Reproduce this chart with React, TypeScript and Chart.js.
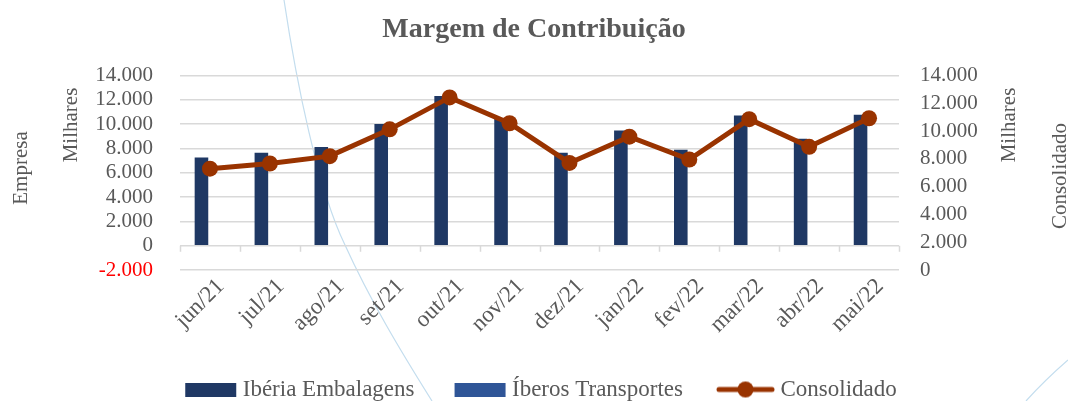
import React, { useEffect, useRef } from 'react';
import { Chart, registerables } from 'chart.js';

Chart.register(...registerables);

const months = ['jun/21', 'jul/21', 'ago/21', 'set/21', 'out/21', 'nov/21', 'dez/21', 'jan/22', 'fev/22', 'mar/22', 'abr/22', 'mai/22'];
const iberiaEmbalagens = [7250, 7650, 8120, 10020, 12320, 10450, 7650, 9490, 7900, 10720, 8800, 10780];
const iberosTransportes = [0, 0, 0, 0, 0, 0, 0, 0, 0, 0, 0, 0];
const consolidado = [7300, 7670, 8200, 10130, 12430, 10570, 7710, 9600, 7960, 10860, 8870, 10930];

const leftMin = -2000;
const leftMax = 14000;
const rightMin = 0;
const rightMax = 14000;
const tickStep = 2000;

const seriesNames = ['Ibéria Embalagens', 'Íberos Transportes', 'Consolidado'];
const chartTitle = 'Margem de Contribuição';
const leftAxisTitle = 'Empresa';
const rightAxisTitle = 'Consolidado';
const unitLabel = 'Milhares';

const FONT = "'Liberation Serif', 'Times New Roman', serif";
const GREY = '#595959';
const NAVY = '#1F3864';
const BLUE = '#2F5597';
const RUST = '#993300';
const GRID = '#D9D9D9';
const DECOR = '#C3DDEE';

function fmt(v: number): string {
  const s = Math.abs(Math.round(v)).toString().replace(/\B(?=(\d{3})+(?!\d))/g, '.');
  return (v < 0 ? '-' : '') + s;
}

function barSwatch(color: string): HTMLCanvasElement {
  const c = document.createElement('canvas');
  c.width = 72;
  c.height = 14;
  const g = c.getContext('2d')!;
  g.fillStyle = color;
  g.fillRect(20, 0, 51, 14);
  return c;
}

function lineSwatch(color: string): HTMLCanvasElement {
  const c = document.createElement('canvas');
  c.width = 72;
  c.height = 18;
  const g = c.getContext('2d')!;
  g.strokeStyle = color;
  g.lineWidth = 5;
  g.lineCap = 'round';
  g.beginPath();
  g.moveTo(16, 9);
  g.lineTo(69, 9);
  g.stroke();
  g.fillStyle = color;
  g.beginPath();
  g.arc(42.5, 9, 8, 0, Math.PI * 2);
  g.fill();
  return c;
}

const decorPlugin = {
  id: 'decor',
  beforeDraw(chart: any) {
    const ctx = chart.ctx;
    ctx.save();
    ctx.strokeStyle = DECOR;
    ctx.lineWidth = 1.2;
    ctx.beginPath();
    ctx.moveTo(284, 0);
    ctx.bezierCurveTo(296, 80, 318, 190, 345, 245);
    ctx.bezierCurveTo(370, 300, 400, 350, 432, 401);
    ctx.stroke();
    ctx.beginPath();
    ctx.moveTo(1026, 401);
    ctx.quadraticCurveTo(1045, 380, 1068, 360);
    ctx.stroke();
    ctx.restore();
  },
};

const axisExtrasPlugin = {
  id: 'axisExtras',
  beforeDatasetsDraw(chart: any) {
    const ctx = chart.ctx;
    const xs = chart.scales.x;
    const ys = chart.scales.y;
    const y0 = ys.getPixelForValue(0);
    const n = chart.data.labels.length;
    const w = (xs.right - xs.left) / n;
    ctx.save();
    ctx.strokeStyle = GRID;
    ctx.lineWidth = 1.5;
    ctx.beginPath();
    for (let i = 0; i <= n; i++) {
      const x = Math.round(xs.left + i * w) + 0.5;
      ctx.moveTo(x, y0);
      ctx.lineTo(x, y0 + 6);
    }
    ctx.stroke();
    ctx.restore();
  },
  afterDraw(chart: any) {
    const ctx = chart.ctx;
    ctx.save();
    ctx.fillStyle = GREY;
    ctx.font = `21px ${FONT}`;
    ctx.textAlign = 'center';
    ctx.textBaseline = 'middle';
    const put = (t: string, x: number, y: number) => {
      ctx.save();
      ctx.translate(x, y);
      ctx.rotate(-Math.PI / 2);
      ctx.fillText(t, 0, 0);
      ctx.restore();
    };
    put(leftAxisTitle, 21, 168);
    put(unitLabel, 71, 125);
    put(unitLabel, 1009, 125);
    put(rightAxisTitle, 1060, 176);
    ctx.restore();
  },
};

export default function App() {
  const ref = useRef<HTMLCanvasElement | null>(null);

  useEffect(() => {
    if (!ref.current) return;
    const swatches = [barSwatch(NAVY), barSwatch(BLUE), lineSwatch(RUST)];
    const chart = new Chart(ref.current, {
      type: 'bar',
      data: {
        labels: months,
        datasets: [
          {
            type: 'bar',
            label: seriesNames[0],
            data: iberiaEmbalagens,
            backgroundColor: NAVY,
            borderWidth: 0,
            yAxisID: 'y',
            order: 2,
            categoryPercentage: 0.567,
            barPercentage: 0.8,
          },
          {
            type: 'bar',
            label: seriesNames[1],
            data: iberosTransportes,
            backgroundColor: BLUE,
            borderWidth: 0,
            yAxisID: 'y',
            order: 3,
            categoryPercentage: 0.567,
            barPercentage: 0.8,
          },
          {
            type: 'line',
            label: seriesNames[2],
            data: consolidado,
            borderColor: RUST,
            backgroundColor: RUST,
            borderWidth: 5,
            pointRadius: 8,
            pointBackgroundColor: RUST,
            pointBorderColor: RUST,
            pointBorderWidth: 0,
            tension: 0,
            yAxisID: 'y1',
            order: 0,
          },
        ],
      } as any,
      options: {
        animation: false,
        responsive: true,
        maintainAspectRatio: false,
        layout: { padding: { left: 0, right: 0, top: 0, bottom: -10 } },
        plugins: {
          tooltip: { enabled: false },
          title: {
            display: true,
            text: chartTitle,
            color: GREY,
            font: { family: FONT, size: 28, weight: 'bold' },
            padding: { top: 13, bottom: 29 },
          },
          legend: {
            position: 'bottom',
            labels: {
              usePointStyle: true,
              pointStyleWidth: 60,
              padding: 26,
              color: GREY,
              font: { family: FONT, size: 23 },
              generateLabels: () =>
                seriesNames.map((name, i) => ({
                  text: name,
                  fillStyle: 'transparent',
                  strokeStyle: 'transparent',
                  lineWidth: 0,
                  pointStyle: swatches[i],
                  datasetIndex: i,
                  hidden: false,
                  fontColor: GREY,
                })),
            },
          },
        },
        scales: {
          x: {
            type: 'category',
            offset: true,
            grid: { display: false, drawTicks: false },
            border: { display: false },
            ticks: {
              color: GREY,
              font: { family: FONT, size: 23 },
              minRotation: 45,
              maxRotation: 45,
              padding: 3,
              labelOffset: 11,
              autoSkip: false,
            },
            afterFit: (s: any) => {
              s.height = 82;
            },
          },
          y: {
            position: 'left',
            min: leftMin,
            max: leftMax,
            grid: { color: GRID, lineWidth: 1.5, drawTicks: false },
            border: { display: false },
            ticks: {
              stepSize: tickStep,
              autoSkip: false,
              padding: 27,
              color: (c: any) => (c.tick && c.tick.value < 0 ? '#FF0000' : GREY),
              font: { family: FONT, size: 21 },
              callback: (v: any) => fmt(Number(v)),
            },
            afterFit: (s: any) => {
              s.width = 180;
            },
          },
          y1: {
            position: 'right',
            min: rightMin,
            max: rightMax,
            grid: { display: false, drawTicks: false },
            border: { display: false },
            ticks: {
              stepSize: tickStep,
              autoSkip: false,
              padding: 21,
              color: GREY,
              font: { family: FONT, size: 21 },
              callback: (v: any) => fmt(Number(v)),
            },
            afterFit: (s: any) => {
              s.width = 169;
            },
          },
        },
      } as any,
      plugins: [decorPlugin, axisExtrasPlugin],
    });
    return () => chart.destroy();
  }, []);

  return (
    <div style={{ position: 'absolute', left: 0, top: 0, width: 1068, height: 401, background: '#fff' }}>
      <canvas ref={ref} />
    </div>
  );
}
